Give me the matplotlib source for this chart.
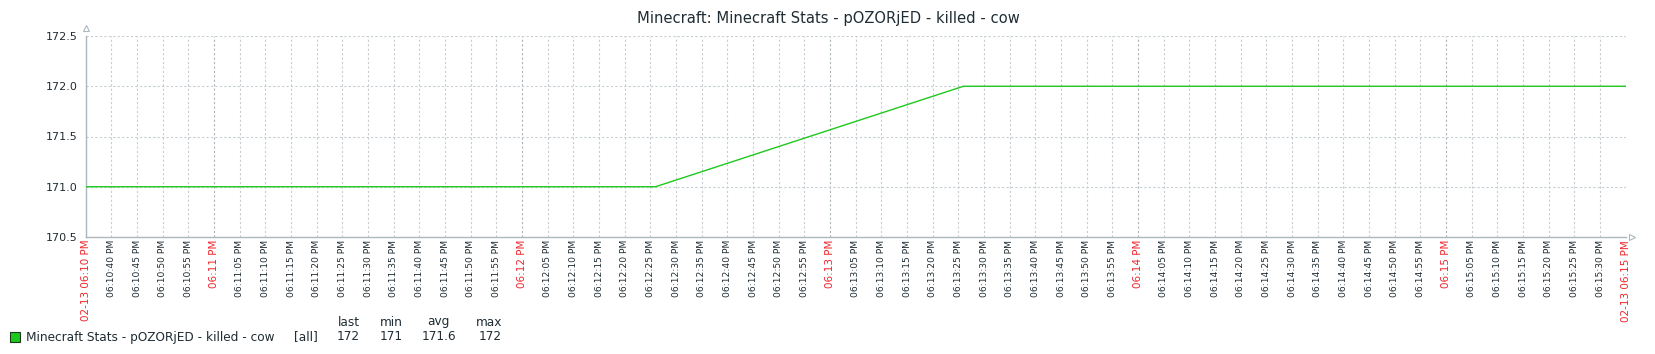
import datetime as dt
import matplotlib
matplotlib.use("Agg")
import matplotlib.pyplot as plt
import matplotlib.dates as mdates

# series: Minecraft Stats - pOZORjED - killed - cow
times = ["18:10:35", "18:12:26", "18:13:26", "18:15:35"]
values = [171, 171, 172, 172]

x_start = "18:10:35"
x_end = "18:15:35"
y_ticks = [170.5, 171.0, 171.5, 172.0, 172.5]

title = "Minecraft: Minecraft Stats - pOZORjED - killed - cow"
legend_name = "Minecraft Stats - pOZORjED - killed - cow"
legend_func = "[all]"
legend_heads = ["last", "min", "avg", "max"]
legend_vals = ["172", "171", "171.6", "172"]

day = dt.date(2024, 2, 13)


def to_dt(s):
	return dt.datetime.combine(day, dt.datetime.strptime(s, "%H:%M:%S").time())


t = [to_dt(s) for s in times]
t0 = to_dt(x_start)
t1 = to_dt(x_end)

txt = "#1f2c33"
red = "#f0262b"
grid_c = "#c5ced3"
axis_c = "#acb7bd"

fig = plt.figure(figsize=(16.56, 3.54), dpi=100)
ax = fig.add_axes([85.7 / 1656, 1 - 237 / 354, 1540 / 1656, 201 / 354])

ax.plot(t, values, color="#1ec81e", lw=1.0, zorder=3)
ax.set_xlim(t0, t1)
ax.set_ylim(y_ticks[0], y_ticks[-1])

# ticks every 5 sec plus the two edges
ticks = [t0]
cur = t0 + dt.timedelta(seconds=5)
while cur < t1:
	ticks.append(cur)
	cur += dt.timedelta(seconds=5)
ticks.append(t1)

labels = []
for i, tk in enumerate(ticks):
	if i == 0 or i == len(ticks) - 1:
		labels.append(tk.strftime("%m-%d %I:%M %p"))
	elif tk.second == 0:
		labels.append(tk.strftime("%I:%M %p"))
	else:
		labels.append(tk.strftime("%I:%M:%S %p"))

ax.set_xticks([mdates.date2num(v) for v in ticks])
ax.set_xticklabels(labels, rotation=90)
for i, (tk, lb) in enumerate(zip(ticks, ax.get_xticklabels())):
	if i == 0 or i == len(ticks) - 1 or tk.second == 0:
		lb.set_color(red)
		lb.set_fontsize(7.5)
	else:
		lb.set_color(txt)
		lb.set_fontsize(6.6)

ax.set_yticks(y_ticks)
ax.set_yticklabels(["%.1f" % v for v in y_ticks], fontsize=8, color=txt)
ax.tick_params(axis="both", length=0)
ax.tick_params(axis="x", pad=2)
ax.tick_params(axis="y", pad=6)

# grid
for i, tk in enumerate(ticks[1:]):
	c = "#a9b4ba" if tk.second == 0 else grid_c
	ax.axvline(tk, color=c, lw=0.8, ls=(0, (2, 2)), zorder=1)
for v in y_ticks[1:]:
	ax.axhline(v, color=grid_c, lw=0.8, ls=(0, (2, 2)), zorder=1)

for s in ["top", "right"]:
	ax.spines[s].set_visible(False)
for s in ["left", "bottom"]:
	ax.spines[s].set_color(axis_c)
	ax.spines[s].set_linewidth(1.0)

# axis arrows
ax.plot([0], [1.04], marker="^", ms=5, mfc="white", mec=axis_c, mew=0.8,
		transform=ax.transAxes, clip_on=False)
ax.plot([1.004], [0], marker=">", ms=5, mfc="white", mec=axis_c, mew=0.8,
		transform=ax.transAxes, clip_on=False)

fig.text(0.5, 1 - 18 / 354, title, ha="center", va="center", fontsize=10.6, color=txt)

# legend
fig.patches.append(plt.Rectangle((10 / 1656, 1 - 342 / 354), 10 / 1656, 10 / 354,
		transform=fig.transFigure, fc="#1ec81e", ec="#1a3a1a", lw=0.8))
ly = 1 - 337 / 354
hy = 1 - 322 / 354
fs = 8.7
fig.text(26 / 1656, ly, legend_name, ha="left", va="center", fontsize=fs, color=txt)
fig.text(294 / 1656, ly, legend_func, ha="left", va="center", fontsize=fs, color=txt)
head_x = [360, 403, 450, 502]
val_x = [360, 403, 456, 502]
for h, v, hx, vx in zip(legend_heads, legend_vals, head_x, val_x):
	fig.text(hx / 1656, hy, h, ha="right", va="center", fontsize=fs, color=txt)
	fig.text(vx / 1656, ly, v, ha="right", va="center", fontsize=fs, color=txt)

fig.savefig("out.png", dpi=100, facecolor="white")
